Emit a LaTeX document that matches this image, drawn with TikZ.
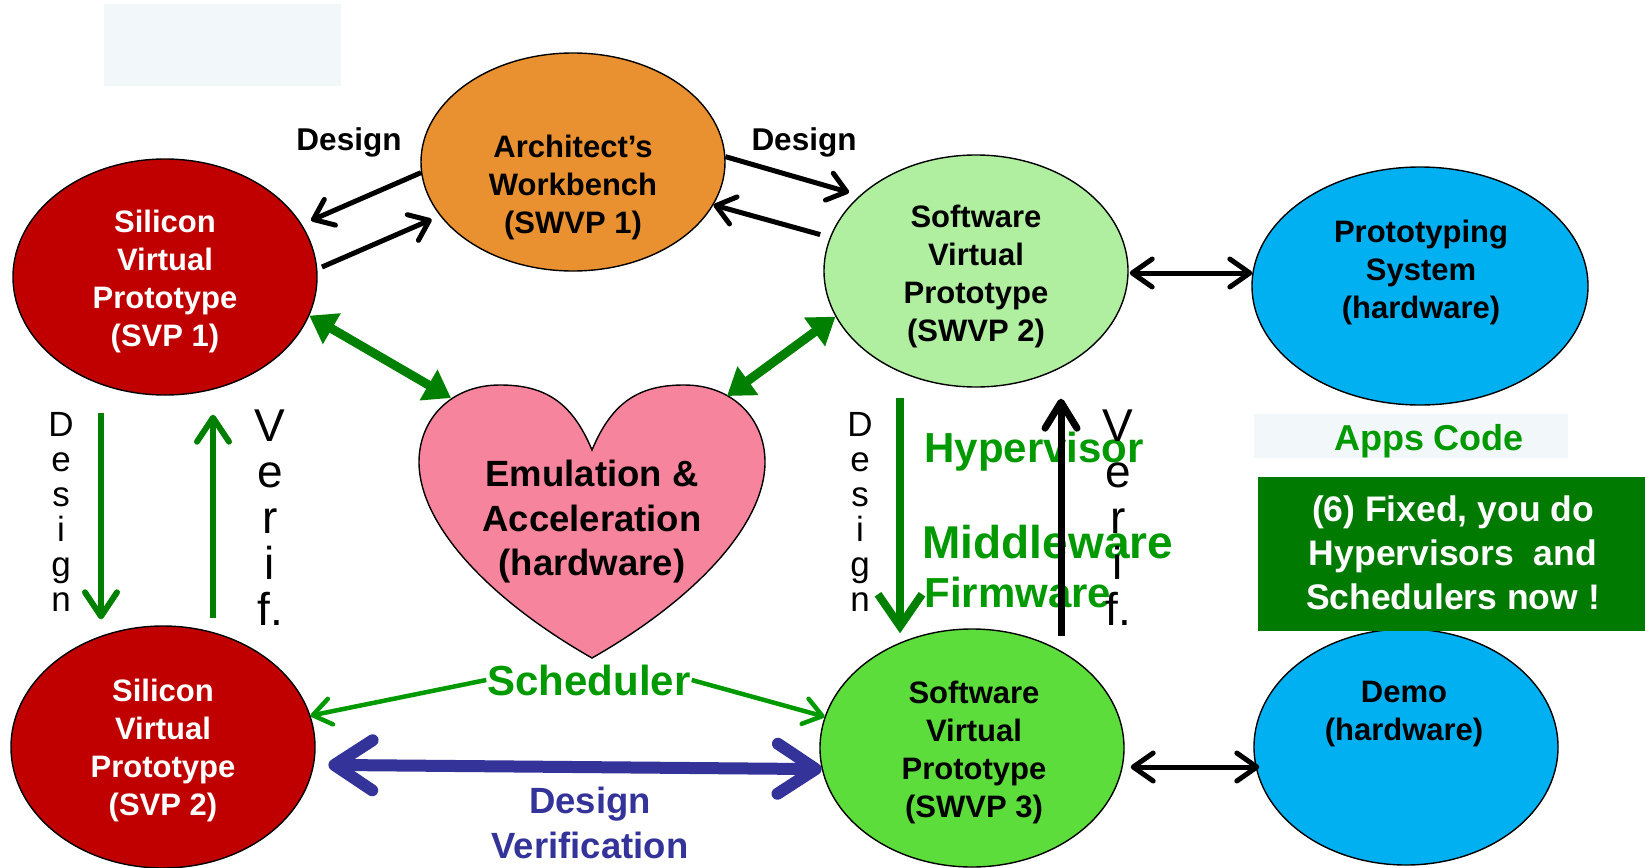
\documentclass[tikz,border=0pt]{standalone}
\usepackage{fontspec}
\setmainfont{Liberation Sans}
\usetikzlibrary{arrows.meta,shapes.geometric,calc}
\definecolor{orangeW}{HTML}{E99131}
\definecolor{darkred}{HTML}{C00000}
\definecolor{lightgreen}{HTML}{B0EEA0}
\definecolor{cyanhw}{HTML}{00B0F0}
\definecolor{greenS}{HTML}{5CDD3C}
\definecolor{pinkheart}{HTML}{F7849D}
\definecolor{darkgreen}{HTML}{008000}
\definecolor{textgreen}{HTML}{009900}
\definecolor{bluedv}{HTML}{333399}
\definecolor{boxgreen}{HTML}{007A00}
\definecolor{palebg}{HTML}{F2F7FA}
\begin{document}
\begin{tikzpicture}[x=1pt,y=-1pt,
  ell/.style={ellipse, draw=black, line width=1.4pt, inner sep=0pt},
  etxt/.style={font=\fontsize{31}{38}\selectfont\bfseries, align=center},
  blk/.style={draw=black, line width=5pt, -{Straight Barb[length=18pt,width=28pt,round]}},
  blkdbl/.style={draw=black, line width=5pt, {Straight Barb[length=20pt,width=28pt,round]}-{Straight Barb[length=20pt,width=28pt,round]}},
  gthick/.style={draw=darkgreen, line width=9pt, {Triangle[length=26pt,width=34pt]}-{Triangle[length=26pt,width=34pt]}},
  gvert/.style={draw=darkgreen, line width=6pt, -{Straight Barb[length=24pt,width=32pt,round]}},
  gvertbig/.style={draw=darkgreen, line width=8pt, -{Straight Barb[length=32pt,width=44pt]}},
  kvert/.style={draw=black, line width=7pt, -{Straight Barb[length=26pt,width=32pt,round]}},
  sched/.style={draw=textgreen, line width=4.5pt, -{Straight Barb[length=18pt,width=26pt,round]}},
  bluedbl/.style={draw=bluedv, line width=12pt, {Straight Barb[length=38pt,width=50pt,round]}-{Straight Barb[length=38pt,width=50pt,round]}},
  vtxt/.style={font=\fontsize{35}{35}\selectfont, align=center},
  vtxtb/.style={font=\fontsize{46}{46}\selectfont, align=center},
  lbl/.style={font=\fontsize{31.5}{38}\selectfont\bfseries},
  gtxt/.style={font=\fontsize{42}{44}\selectfont\bfseries, text=textgreen}
]
\useasboundingbox (0,0) rectangle (1645,867);
\fill[white] (0,0) rectangle (1645,867);
\fill[palebg] (104,4) rectangle (341,86);

% ellipses
\node[ell, fill=orangeW, minimum width=304pt, minimum height=218pt] (arch) at (573,162) {};
\node[ell, fill=darkred, minimum width=304pt, minimum height=236pt] (svp1) at (165,277) {};
\node[ell, fill=lightgreen, minimum width=304pt, minimum height=232pt] (swvp2) at (976,271) {};
\node[ell, fill=cyanhw, minimum width=336pt, minimum height=238pt] (proto) at (1420,286) {};
\node[ell, fill=darkred, minimum width=304pt, minimum height=242pt] (svp2) at (163,747) {};
\node[ell, fill=greenS, minimum width=304pt, minimum height=238pt] (swvp3) at (972,748) {};
\node[ell, fill=cyanhw, minimum width=304pt, minimum height=236pt] (demo) at (1406,747) {};

% heart
\filldraw[fill=pinkheart, draw=black, line width=1.4pt]
  (592,450) .. controls (572,402) and (545,385) .. (500,385)
  .. controls (450,385) and (419,420) .. (419,462)
  .. controls (419,525) and (490,600) .. (592,658)
  .. controls (694,600) and (765,525) .. (765,462)
  .. controls (765,420) and (734,385) .. (684,385)
  .. controls (639,385) and (612,402) .. (592,450) -- cycle;
\coordinate (heartL) at (451,398);
\coordinate (heartR) at (727,396);

% ellipse texts
\node[etxt] (archt) at (573,187) {Architect’s\\Workbench\\(SWVP 1)};
\node[etxt, text=white] (svp1t) at (165,281) {Silicon\\Virtual\\Prototype\\(SVP 1)};
\node[etxt] (swvp2t) at (976,276) {Software\\Virtual\\Prototype\\(SWVP 2)};
\node[etxt] (protot) at (1421,272) {Prototyping\\System\\(hardware)};
\node[etxt, text=white] (svp2t) at (163,750) {Silicon\\Virtual\\Prototype\\(SVP 2)};
\node[etxt] (swvp3t) at (974,752) {Software\\Virtual\\Prototype\\(SWVP 3)};
\node[etxt] (demot) at (1404,714) {Demo\\(hardware)};
\node[font=\fontsize{36.5}{44.5}\selectfont\bfseries, align=center] (heartt) at (592,522) {Emulation \&\\Acceleration\\(hardware)};

% top labels and arrows
\node[lbl, anchor=base] (dl) at (349,150) {Design};
\node[lbl, anchor=base] (dr) at (804,150) {Design};
\draw[blk, shorten >=10pt] (arch.184) -- (svp1.21);
\draw[blk, shorten <=5pt, shorten >=9pt] (svp1.3) -- (arch.202);
\draw[blk, shorten >=11pt] (arch.2) -- (swvp2.147);
\draw[blk, shorten <=10pt] (swvp2.167) -- (arch.-17);

% horizontal black double arrows
\draw[blkdbl] ([xshift=1pt,yshift=-2pt]swvp2.east) -- ([xshift=1pt,yshift=-2pt]swvp2.east -| proto.west);
\draw[blkdbl] ([xshift=6pt,yshift=-19pt]swvp3.east) -- ([xshift=6pt,yshift=-19pt]swvp3.east -| demo.west);

% thick green arrows to heart
\draw[gthick] (svp1.-15) -- (heartL);
\draw[gthick] (swvp2.198) -- (heartR);

% left vertical arrows
\draw[gvert] ([xshift=-64pt,yshift=-17pt]svp1.south) -- ([xshift=-62pt,yshift=6pt]svp2.north);
\draw[gvert] ([xshift=50pt,yshift=7pt]svp2.north) -- ([xshift=48pt,yshift=-19pt]svp1.south);
\node[vtxt] (ldes) at (61,511.5) {D\\e\\s\\i\\g\\n};
\node[vtxtb] (lver) at (270,518) {V\\e\\r\\i\\f.};

% right vertical arrows and texts
\node[vtxt] (rdes) at (860,511.5) {D\\e\\s\\i\\g\\n};
\draw[gvertbig] ([xshift=-76pt,yshift=-10pt]swvp2.south) -- ([xshift=-72pt,yshift=-5pt]swvp3.north);
\node[gtxt, anchor=base west] (hyp) at (921,462) {Hypervisor};
\node[gtxt, font=\fontsize{46}{48}\selectfont\bfseries, anchor=base west] (mid) at (919,558) {Middleware};
\node[gtxt, anchor=base west] (firm) at (921,607) {Firmware};
\draw[kvert] ([xshift=89pt,yshift=-8pt]swvp3.north) -- ([xshift=85pt,yshift=-11pt]swvp2.south);
\node[vtxtb] (rver) at (1118,518) {V\\e\\r\\i\\f.};

% scheduler
\node[gtxt, anchor=base, inner sep=1pt] (schedt) at (589,695) {Scheduler};
\draw[sched] (schedt.west) -- (svp2.12);
\draw[sched] (schedt.east) -- (swvp3.168);

% design verification
\draw[bluedbl] ([xshift=14pt,yshift=-2pt]svp2.-6) -- (swvp3.188);
\node[font=\fontsize{36.5}{44.5}\selectfont\bfseries, text=bluedv, align=center] (dvt) at (590,823) {Design\\Verification};

% apps code and box
\node[fill=palebg, minimum width=314pt, minimum height=44pt, inner sep=0pt] (appsbg) at (1411,436) {};
\node[font=\fontsize{36}{40}\selectfont\bfseries, text=textgreen, anchor=base] (apps) at (1429,450) {Apps Code};
\node[fill=boxgreen, minimum width=387pt, minimum height=154pt, inner sep=0pt] (fixbox) at (1451.5,554) {};
\node[font=\fontsize{35.5}{44}\selectfont\bfseries, text=white, align=center] (fixt) at (1453,553) {(6) Fixed, you do\\Hypervisors\ \ and\\Schedulers now !};
\end{tikzpicture}
\end{document}
